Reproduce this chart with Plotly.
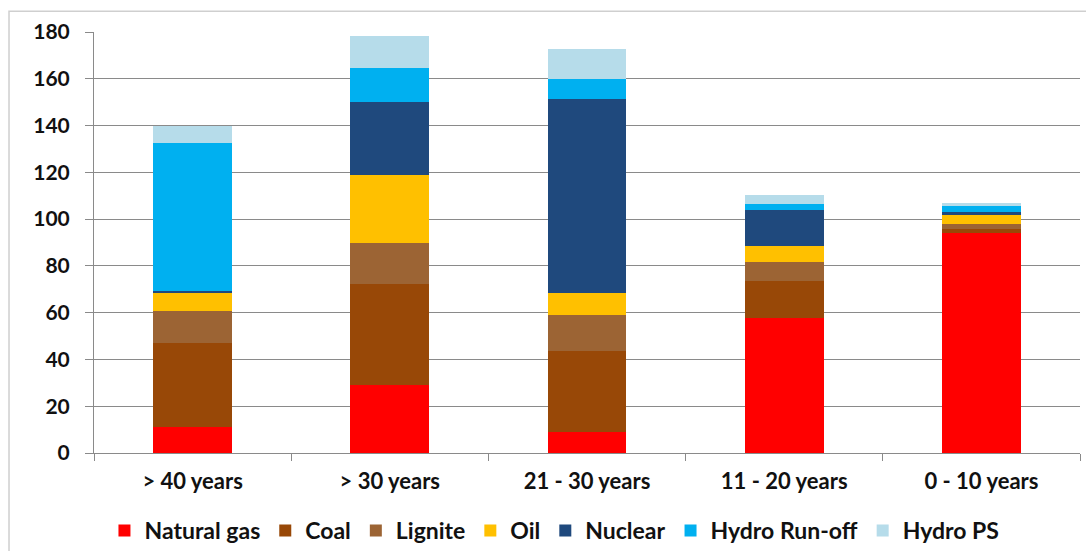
import plotly.graph_objects as go

# Installed capacity by plant age (GW), stacked by fuel
age_groups = ["> 40 years", "> 30 years", "21 - 30 years", "11 - 20 years", "0 - 10 years"]

natural_gas = [11.2, 29.0, 8.8, 57.9, 93.9]
coal = [36.0, 43.4, 34.9, 15.7, 2.0]
lignite = [13.6, 17.4, 15.4, 8.0, 2.0]
oil = [7.8, 29.1, 9.5, 7.0, 3.7]
nuclear = [0.6, 31.3, 82.7, 15.3, 1.6]
hydro_run_off = [63.2, 14.6, 8.7, 2.5, 2.6]
hydro_ps = [7.6, 13.5, 12.6, 3.9, 0.9]

series = [
    ("Natural gas", natural_gas, "#FF0000"),
    ("Coal", coal, "#984807"),
    ("Lignite", lignite, "#9C6434"),
    ("Oil", oil, "#FFC000"),
    ("Nuclear", nuclear, "#1F497D"),
    ("Hydro Run-off", hydro_run_off, "#00B0F0"),
    ("Hydro PS", hydro_ps, "#B6DCEA"),
]

y_ticks = [0, 20, 40, 60, 80, 100, 120, 140, 160, 180]

FAMILY = "Lato, Open Sans, sans-serif"
TICK_FONT = dict(family=FAMILY, size=21, color="#111111", weight="bold")
X_FONT = dict(family=FAMILY, size=22, color="#111111", weight="bold")
LEGEND_FONT = dict(family=FAMILY, size=23, color="#111111", weight="bold")

fig = go.Figure()
for name, values, color in series:
    fig.add_trace(go.Bar(
        x=age_groups, y=values, name=name,
        marker=dict(color=color, line=dict(width=0)),
        width=0.4,
    ))

fig.update_layout(
    barmode="stack",
    width=1086, height=551,
    margin=dict(l=94, r=6, t=32, b=98, autoexpand=False),
    paper_bgcolor="white", plot_bgcolor="white",
    font=TICK_FONT,
    showlegend=True,
    legend=dict(
        orientation="h", x=0.467, xanchor="center", y=-0.184, yanchor="middle",
        font=LEGEND_FONT, itemwidth=30, traceorder="normal",
        bgcolor="rgba(0,0,0,0)",
    ),
    xaxis=dict(
        type="category", showgrid=False, showline=True, linecolor="#8a8a8a", linewidth=1,
        ticks="outside", tickson="boundaries", ticklen=7, tickcolor="#8a8a8a",
        ticklabelstandoff=9, tickfont=X_FONT, automargin=False,
    ),
    yaxis=dict(
        range=[0, 180], tickvals=y_ticks, showgrid=True, gridcolor="#8a8a8a", gridwidth=1,
        showline=True, linecolor="#8a8a8a", linewidth=1, zeroline=False,
        ticks="outside", ticklen=8, tickcolor="#8a8a8a",
        ticklabelstandoff=11, tickfont=TICK_FONT, automargin=False,
    ),
    shapes=[dict(
        type="rect", xref="paper", yref="paper",
        x0=-0.0862, x1=1.03, y0=-0.3, y1=1.049,
        line=dict(color="#cfcfcf", width=1.5), fillcolor="rgba(0,0,0,0)", layer="below",
    )],
)

fig.write_html("out.html")
